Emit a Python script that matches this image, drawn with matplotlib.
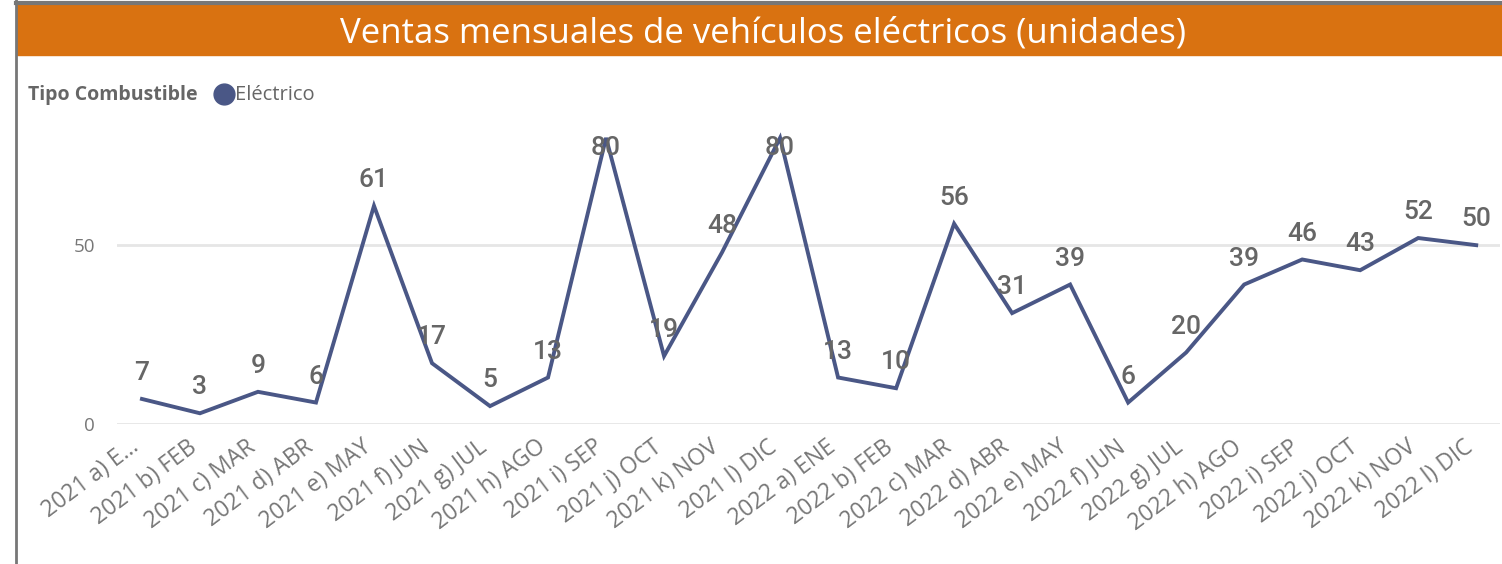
import matplotlib.pyplot as plt
from matplotlib.lines import Line2D
from matplotlib.patches import Rectangle

months = ["2021 a) E...", "2021 b) FEB", "2021 c) MAR", "2021 d) ABR", "2021 e) MAY",
          "2021 f) JUN", "2021 g) JUL", "2021 h) AGO", "2021 i) SEP", "2021 j) OCT",
          "2021 k) NOV", "2021 l) DIC", "2022 a) ENE", "2022 b) FEB", "2022 c) MAR",
          "2022 d) ABR", "2022 e) MAY", "2022 f) JUN", "2022 g) JUL", "2022 h) AGO",
          "2022 i) SEP", "2022 j) OCT", "2022 k) NOV", "2022 l) DIC"]
ventas = [7, 3, 9, 6, 61, 17, 5, 13, 80, 19, 48, 80, 13, 10, 56, 31, 39, 6, 20, 39, 46, 43, 52, 50]
yticks = [0, 50]

line_color = '#4a5786'
gray = '#666666'

fig = plt.figure(figsize=(15.02, 5.64), dpi=100)
W, H = 1502.0, 564.0

# frame and title band
fig.add_artist(Line2D([16/W, 16/W], [0, 1], color='#777777', lw=2))
fig.add_artist(Line2D([16/W, 1], [1 - 3/H, 1 - 3/H], color='#777777', lw=3))
fig.add_artist(Rectangle((17/W, 1 - 55/H), 1, 50/H, color='#d97211', transform=fig.transFigure))
fig.text(763/W, 1 - 33/H, 'Ventas mensuales de vehículos eléctricos (unidades)',
         color='white', fontsize=25, family='Open Sans', ha='center', va='center')

# legend
fig.text(28/W, 1 - 95/H, 'Tipo Combustible', color=gray, fontsize=14, fontweight='bold',
         family='Open Sans', ha='left', va='center')
fig.add_artist(Line2D([224/W], [1 - 94/H], marker='o', ms=15, color=line_color))
fig.text(235/W, 1 - 95/H, 'Eléctrico', color=gray, fontsize=14.5, family='Open Sans',
         ha='left', va='center')

ax = fig.add_axes([117/W, (H - 424)/H, (1500 - 117)/W, (424 - 120)/H])
x = list(range(len(ventas)))
ax.plot(x, ventas, color=line_color, lw=2.8, solid_joinstyle='miter', clip_on=False)
top = max(ventas)
for xi, v in zip(x, ventas):
    if v == top:
        # label squeezed inside the plot area at the peak
        ax.annotate(str(v), (xi, v), xytext=(0, -7), textcoords='offset points', ha='center',
                    va='center', fontsize=19, color=gray, family='Roboto', fontweight='medium')
    else:
        ax.annotate(str(v), (xi, v), xytext=(0, 10), textcoords='offset points', ha='center',
                    va='bottom', fontsize=19, color=gray, family='Roboto', fontweight='medium')

# category labels, drawn as rotated annotations just under the axis
for xi, m in zip(x, months):
    ax.annotate(m, (xi, 0), xycoords=('data', 'axes fraction'), xytext=(-9, -8),
                textcoords='offset points', rotation=37, ha='right', va='top',
                rotation_mode='anchor', fontsize=16.5, color='#777777', family='Open Sans',
                annotation_clip=False)

ax.set_xlim(-0.43, 23.41)
ax.set_ylim(0, 85)
ax.set_yticks(yticks)
ax.set_yticklabels([str(t) for t in yticks], fontsize=13.5, color='#777777', family='Open Sans')
ax.yaxis.grid(True, color='#e6e6e6', lw=2)
ax.set_axisbelow(True)
ax.set_xticks([])
ax.tick_params(axis='both', length=0)
ax.tick_params(axis='y', pad=16)
for s in ax.spines.values():
    s.set_visible(False)

fig.savefig('out.png', dpi=100)
